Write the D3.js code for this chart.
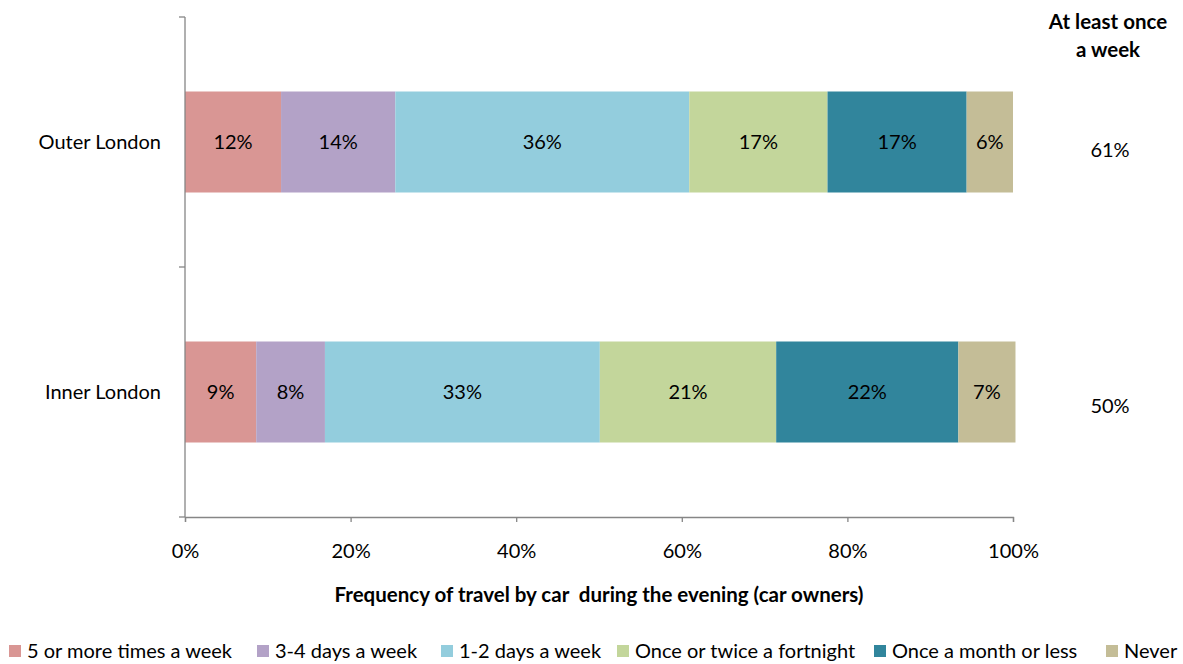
<!DOCTYPE html>
<html><head><meta charset="utf-8">
<script src="https://cdn.jsdelivr.net/npm/d3@7"></script>
<style>body{margin:0;background:#fff}svg{display:block;font-family:Lato,"Open Sans",sans-serif}</style>
</head><body><svg id="c" width="1183" height="664"></svg>
<script>
const categories = ["Outer London", "Inner London"];
const seriesNames = ["5 or more times a week", "3-4 days a week", "1-2 days a week", "Once or twice a fortnight", "Once a month or less", "Never"];
const outerValues = [11.6, 13.8, 35.5, 16.7, 16.8, 5.6];
const innerValues = [8.6, 8.3, 33.2, 21.3, 22.0, 6.9];
const weeklyTotals = ["61%", "50%"];
const xTicks = [0, 20, 40, 60, 80, 100];
const colors = ["#d99694", "#b3a2c7", "#93cddd", "#c3d69b", "#31859c", "#c4bd97"];

const FS = 20;
const svg = d3.select("#c");
const x = d3.scaleLinear().domain([0, 100]).range([185, 1013]);
const y = d3.scaleBand().domain(categories).range([17, 517]).paddingInner(0.596).paddingOuter(0.298);
const valuesByCat = {"Outer London": outerValues, "Inner London": innerValues};

categories.forEach((cat, ci) => {
  const vals = valuesByCat[cat];
  let cum = 0;
  vals.forEach((v, i) => {
    const x0 = cum; cum += v;
    svg.append("rect").attr("x", x(x0)).attr("y", y(cat)).attr("width", x(cum) - x(x0)).attr("height", y.bandwidth()).attr("fill", colors[i]);
    svg.append("text").attr("x", (x(x0) + x(cum)) / 2).attr("y", y(cat) + y.bandwidth() / 2).attr("dy", "0.35em")
      .attr("text-anchor", "middle").attr("font-size", FS).attr("fill", "#000").text(Math.round(v) + "%");
  });
  svg.append("text").attr("x", 161).attr("y", y(cat) + y.bandwidth() / 2).attr("dy", "0.35em").attr("text-anchor", "end").attr("font-size", FS).text(cat);
});

// axes
const axisColor = "#868686";
const yAxis = svg.append("g");
yAxis.append("line").attr("x1", 185).attr("x2", 185).attr("y1", 17).attr("y2", 517).attr("stroke", axisColor).attr("stroke-width", 1.3);
[17, 267, 517].forEach(t => yAxis.append("line").attr("x1", 179).attr("x2", 185).attr("y1", t).attr("y2", t).attr("stroke", axisColor).attr("stroke-width", 1.3));

const xAxis = svg.append("g").attr("transform", "translate(0,517)")
  .call(d3.axisBottom(x).tickValues(xTicks).tickSize(5).tickPadding(22).tickFormat(d => d + "%"));
xAxis.select(".domain").attr("stroke", axisColor).attr("stroke-width", 1.3);
xAxis.selectAll(".tick line").attr("stroke", axisColor).attr("stroke-width", 1.3);
xAxis.selectAll(".tick text").attr("font-size", FS).attr("font-family", "Lato,sans-serif").attr("fill", "#000");

svg.append("text").attr("x", 599).attr("y", 602).attr("text-anchor", "middle").attr("font-size", 20.5).attr("font-weight", "bold").style("white-space", "pre").text("Frequency of travel by car  during the evening (car owners)");

// right annotation
svg.append("text").attr("x", 1108).attr("y", 29).attr("text-anchor", "middle").attr("font-size", 20.5).attr("font-weight", "bold").text("At least once");
svg.append("text").attr("x", 1108).attr("y", 57).attr("text-anchor", "middle").attr("font-size", 20.5).attr("font-weight", "bold").text("a week");
const totY = [150, 406];
weeklyTotals.forEach((t, i) => svg.append("text").attr("x", 1110).attr("y", totY[i]).attr("dy", "0.35em").attr("text-anchor", "middle").attr("font-size", FS).text(t));

// legend
const legX = [9, 257, 441, 617, 874, 1106];
seriesNames.forEach((s, i) => {
  svg.append("rect").attr("x", legX[i]).attr("y", 645).attr("width", 12).attr("height", 12).attr("fill", colors[i]);
  svg.append("text").attr("x", legX[i] + 18).attr("y", 651).attr("dy", "0.35em").attr("font-size", FS).text(s);
});
</script></body></html>
